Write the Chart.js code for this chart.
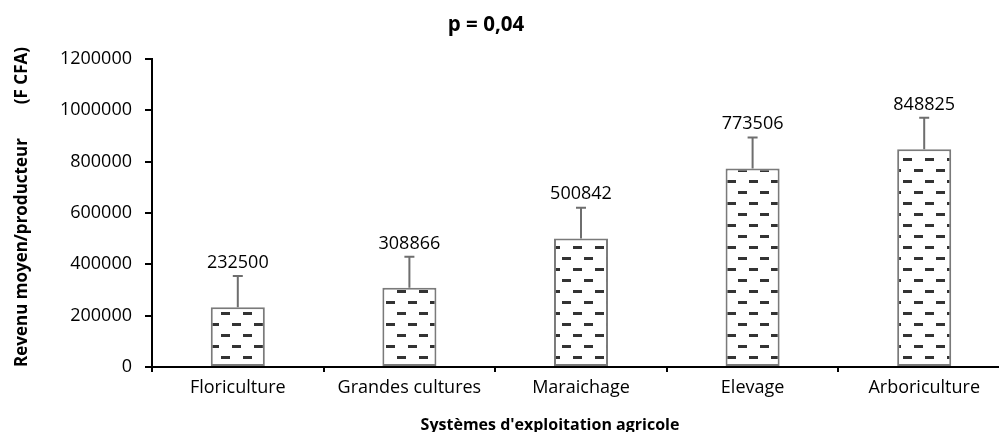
<!DOCTYPE html>
<html>
<head>
<meta charset="utf-8">
<script src="https://cdn.jsdelivr.net/npm/chart.js@4.4.1/dist/chart.umd.min.js"></script>
<style>
  html, body { margin: 0; padding: 0; background: #fff; overflow: hidden; }
  #wrap { width: 1010px; height: 432px; }
</style>
</head>
<body>
<div id="wrap"><canvas id="c" width="1010" height="432"></canvas></div>
<script>
// ---- data ----
const categories = ['Floriculture', 'Grandes cultures', 'Maraichage', 'Elevage', 'Arboriculture'];
const revenuMoyen = [232500, 308866, 500842, 773506, 848825];
const erreurs = [122000, 121000, 120000, 121000, 122000];
const yTicks = [0, 200000, 400000, 600000, 800000, 1000000, 1200000];
const chartTitle = 'p = 0,04';
const xTitle = "Systèmes d'exploitation agricole";
const yTitleMain = 'Revenu moyen/producteur';
const yTitleUnit = '(F CFA)';

// ---- pattern fill (dashes) ----
function makePattern() {
  const t = document.createElement('canvas');
  t.width = 22; t.height = 22;
  const g = t.getContext('2d');
  g.fillStyle = '#ffffff';
  g.fillRect(0, 0, 22, 22);
  g.fillStyle = '#333333';
  g.fillRect(1, 4, 9, 3);
  g.fillRect(12, 15, 9, 3);
  return g.createPattern(t, 'repeat');
}

const FONT = '"Open Sans", Lato, sans-serif';

const extras = {
  id: 'extras',
  afterDatasetsDraw(chart) {
    const ctx = chart.ctx;
    const y = chart.scales.y;
    const meta = chart.getDatasetMeta(0);
    ctx.save();
    meta.data.forEach((bar, i) => {
      const top = y.getPixelForValue(revenuMoyen[i] + erreurs[i]);
      ctx.strokeStyle = '#6e6e6e';
      ctx.lineWidth = 2;
      ctx.beginPath();
      ctx.moveTo(bar.x, bar.y);
      ctx.lineTo(bar.x, top);
      ctx.moveTo(bar.x - 5, top);
      ctx.lineTo(bar.x + 5, top);
      ctx.stroke();
      ctx.fillStyle = '#000';
      ctx.font = '18px ' + FONT;
      ctx.textAlign = 'center';
      ctx.textBaseline = 'alphabetic';
      ctx.fillText(String(revenuMoyen[i]), bar.x, bar.y - 39);
    });
    ctx.restore();
  },
  afterDraw(chart) {
    const ctx = chart.ctx;
    ctx.save();
    ctx.fillStyle = '#000';
    ctx.textBaseline = 'alphabetic';
    ctx.font = 'bold 20.5px ' + FONT;
    ctx.textAlign = 'center';
    ctx.fillText(chartTitle, 486, 31);
    ctx.font = 'bold 16px ' + FONT;
    ctx.fillText(xTitle, 550, 430);
    ctx.translate(27, 0);
    ctx.rotate(-Math.PI / 2);
    ctx.font = 'bold 17px ' + FONT;
    ctx.textAlign = 'left';
    ctx.fillText(yTitleMain, -367, 0);
    ctx.textAlign = 'right';
    ctx.fillText(yTitleUnit, -47, 0);
    ctx.restore();
  }
};

new Chart(document.getElementById('c'), {
  type: 'bar',
  data: {
    labels: categories,
    datasets: [{
      data: revenuMoyen,
      backgroundColor: makePattern(),
      borderColor: '#7a7a7a',
      borderWidth: 2,
      borderSkipped: false,
      barPercentage: 0.315,
      categoryPercentage: 1
    }]
  },
  options: {
    responsive: false,
    animation: false,
    layout: { padding: { top: 59, left: 0, right: 0, bottom: 0 } },
    plugins: { legend: { display: false }, tooltip: { enabled: false }, title: { display: false } },
    scales: {
      x: {
        grid: { display: true, drawOnChartArea: false, drawTicks: true, tickLength: 5, color: '#000', lineWidth: 2, offset: true },
        border: { color: '#000', width: 2 },
        ticks: { font: { family: FONT, size: 18 }, color: '#000', padding: 5, maxRotation: 0, autoSkip: false },
        afterFit(s) { s.height = 65; }
      },
      y: {
        min: 0, max: 1200000,
        afterBuildTicks(s) { s.ticks = yTicks.map(v => ({ value: v })); },
        ticks: { font: { family: FONT, size: 18 }, color: '#000', padding: 13, callback: v => String(v) },
        grid: { drawOnChartArea: false, drawTicks: true, tickLength: 7, color: '#000', lineWidth: 2 },
        border: { color: '#000', width: 2 },
        afterFit(s) { s.width = 152; }
      }
    }
  },
  plugins: [extras]
});
</script>
</body>
</html>
